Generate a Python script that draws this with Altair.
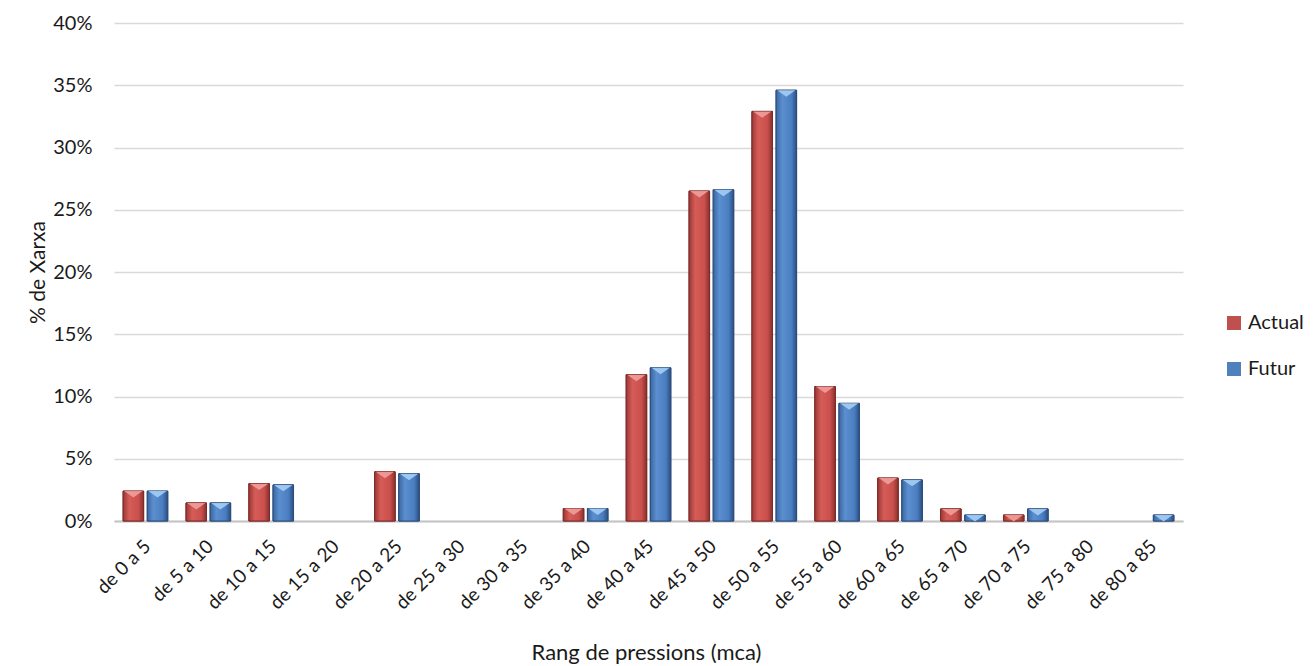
import altair as alt
import pandas as pd

categories = ["de 0 a 5", "de 5 a 10", "de 10 a 15", "de 15 a 20", "de 20 a 25",
              "de 25 a 30", "de 30 a 35", "de 35 a 40", "de 40 a 45", "de 45 a 50",
              "de 50 a 55", "de 55 a 60", "de 60 a 65", "de 65 a 70", "de 70 a 75",
              "de 75 a 80", "de 80 a 85"]
actual = [0.024, 0.0145, 0.030, 0.0, 0.0395, 0.0, 0.0, 0.010, 0.1175, 0.265,
          0.329, 0.108, 0.0345, 0.0097, 0.0048, 0.0, 0.0]
futur = [0.024, 0.0145, 0.029, 0.0, 0.038, 0.0, 0.0, 0.010, 0.123, 0.266,
         0.346, 0.0945, 0.033, 0.0048, 0.0097, 0.0, 0.0048]
series = ["Actual", "Futur"]
y_ticks = [0, 0.05, 0.10, 0.15, 0.20, 0.25, 0.30, 0.35, 0.40]

rows = []
for c, a, f in zip(categories, actual, futur):
    rows.append({"cat": c, "serie": "Actual", "value": a})
    rows.append({"cat": c, "serie": "Futur", "value": f})
df = pd.DataFrame(rows)

FONT = "Lato"
FS = 20
TXT = "#1a1a1a"

x_scale = alt.Scale(domain=categories, paddingInner=0.29, paddingOuter=0.145)
x_enc = alt.X("cat:N", sort=categories, scale=x_scale,
              axis=alt.Axis(title="Rang de pressions (mca)", labelAngle=-45,
                            labelAlign="right", labelBaseline="middle",
                            labelPadding=22, labelOffset=2, ticks=False,
                            domainColor="#c4c4c4", domainWidth=2,
                            labelFont=FONT, labelFontSize=FS - 1, labelColor=TXT,
                            titleFont=FONT, titleFontSize=22, titleColor=TXT,
                            titleFontWeight="normal", titleX=532, titleY=131,
                            titleAlign="center", titleBaseline="middle"))
xoff = alt.XOffset("serie:N", sort=series,
                   scale=alt.Scale(domain=series, paddingInner=0.15))
y_enc = alt.Y("value:Q", scale=alt.Scale(domain=[0, 0.4], nice=False),
              axis=alt.Axis(title="% de Xarxa", values=y_ticks, format=".0%",
                            ticks=False, domain=False, labelPadding=22,
                            gridColor="#d9d9d9", gridWidth=1.5,
                            labelFont=FONT, labelFontSize=FS, labelColor=TXT,
                            titleFont=FONT, titleFontSize=21, titleColor=TXT,
                            titleFontWeight="normal", titleAngle=-90,
                            titleX=-76, titleY=249, titleAlign="center",
                            titleBaseline="middle"))

base = alt.Chart(df).transform_filter(alt.datum.value > 0)

bars = base.mark_bar(strokeWidth=1).encode(
    x=x_enc, xOffset=xoff, y=y_enc,
    color=alt.Color("serie:N", sort=series,
                    scale=alt.Scale(domain=series, range=["#c0504d", "#4f81bd"]),
                    legend=alt.Legend(title=None, orient="none", legendX=1110,
                                      legendY=290, symbolType="square",
                                      symbolSize=196, symbolStrokeWidth=0,
                                      labelFont=FONT, labelFontSize=FS,
                                      labelColor=TXT, rowPadding=26, padding=0,
                                      labelOffset=4)),
    stroke=alt.Stroke("serie:N", sort=series,
                      scale=alt.Scale(domain=series, range=["#7d2b29", "#2c4d7a"]),
                      legend=None),
)

red_grad = alt.Gradient(gradient="linear", x1=0, x2=1, y1=0, y2=0, stops=[
    alt.GradientStop(color="#9a3835", offset=0),
    alt.GradientStop(color="#d65c58", offset=0.3),
    alt.GradientStop(color="#c9504c", offset=0.75),
    alt.GradientStop(color="#8a302d", offset=1)])
blue_grad = alt.Gradient(gradient="linear", x1=0, x2=1, y1=0, y2=0, stops=[
    alt.GradientStop(color="#3a66a0", offset=0),
    alt.GradientStop(color="#5b8fd0", offset=0.3),
    alt.GradientStop(color="#4a7ec0", offset=0.75),
    alt.GradientStop(color="#2b4f82", offset=1)])

red_bars = base.transform_filter(alt.datum.serie == "Actual").mark_bar(
    color=red_grad, stroke="#7d2b29", strokeWidth=1).encode(
    x=alt.X("cat:N", sort=categories, scale=x_scale), xOffset=xoff, y="value:Q")
blue_bars = base.transform_filter(alt.datum.serie == "Futur").mark_bar(
    color=blue_grad, stroke="#2c4d7a", strokeWidth=1).encode(
    x=alt.X("cat:N", sort=categories, scale=x_scale), xOffset=xoff, y="value:Q")

tri_path = "M -1 0 L 1 0 L 0 0.7 Z"
bevel = base.mark_point(
    shape=tri_path, filled=True, size=340, opacity=0.85, strokeWidth=0).encode(
    x=alt.X("cat:N", sort=categories, scale=x_scale), xOffset=xoff, y="value:Q",
    color=alt.Color("serie:N", sort=series,
                    scale=alt.Scale(domain=series, range=["#f2a3a0", "#a9d2f7"]),
                    legend=None),
)

chart = alt.layer(bars, red_bars, blue_bars, bevel).resolve_scale(
    color="independent"
).properties(
    width=1069, height=498,
    autosize=alt.AutoSizeParams(type="none"),
    padding={"left": 114, "top": 23, "right": 130, "bottom": 145},
    background="white",
).configure_view(stroke=None)

chart.save("out.html", embed_options={"renderer": "svg", "actions": False})
